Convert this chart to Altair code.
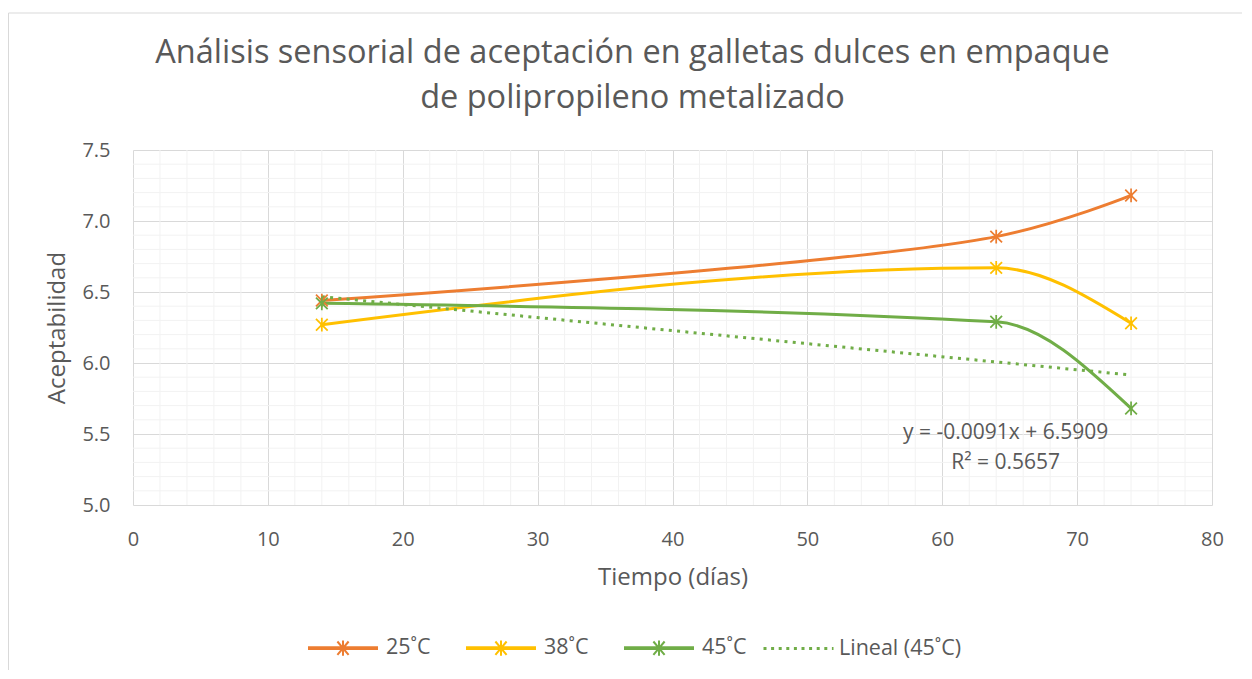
import altair as alt
import pandas as pd

# ---- data ----
dias = [14, 64, 74]
series_names = ["25˚C", "38˚C", "45˚C"]
v25 = [6.44, 6.89, 7.18]
v38 = [6.27, 6.67, 6.28]
v45 = [6.42, 6.29, 5.68]
colors = ["#ED7D31", "#FFC000", "#70AD47"]
trend_name = "Lineal (45˚C)"
trend_color = "#70AD47"

x_ticks = [0, 10, 20, 30, 40, 50, 60, 70, 80]
y_ticks = [5.0, 5.5, 6.0, 6.5, 7.0, 7.5]
x_minor = [2, 4, 6, 8, 12, 14, 16, 18, 22, 24, 26, 28, 32, 34, 36, 38,
           42, 44, 46, 48, 52, 54, 56, 58, 62, 64, 66, 68, 72, 74, 76, 78]
y_minor = [5.1, 5.2, 5.3, 5.4, 5.6, 5.7, 5.8, 5.9, 6.1, 6.2, 6.3, 6.4,
           6.6, 6.7, 6.8, 6.9, 7.1, 7.2, 7.3, 7.4]

eq_text = ["y = -0.0091x + 6.5909", "R² = 0.5657"]
eq_x = [64.7, 64.7]
eq_y = [5.505, 5.295]

title_lines = ["Análisis sensorial de aceptación en galletas dulces en empaque",
               "de polipropileno metalizado"]

FONT = "Open Sans"
TXT = "#595959"
W, H = 1079, 355

rows = []
for name, vals in zip(series_names, [v25, v38, v45]):
    for d, v in zip(dias, vals):
        rows.append({"dias": d, "valor": v, "serie": name})
df = pd.DataFrame(rows)

xs = alt.Scale(domain=[0, 80], nice=False, zero=False)
ys = alt.Scale(domain=[5.0, 7.5], nice=False, zero=False)

asterisk = "M-0.9,-0.9L0.9,0.9M-0.9,0.9L0.9,-0.9M0,-1.05V1.05"
legend_path = ("M-1,-0.025H1M-1,0.025H1"
               "M-0.16,-0.19L0.16,0.19M-0.16,0.19L0.16,-0.19M0,-0.22V0.22")

frame = alt.Chart(pd.DataFrame({"k": [0]})).mark_rect(
    fillOpacity=0, stroke="#D9D9D9", strokeWidth=1
).encode(x=alt.value(-124.5), x2=alt.value(1130), y=alt.value(-137), y2=alt.value(560))

minor_x = alt.Chart(pd.DataFrame({"g": x_minor})).mark_rule(
    color="#F2F2F2", strokeWidth=1
).encode(x=alt.X("g:Q", scale=xs))

minor_y = alt.Chart(pd.DataFrame({"g": y_minor})).mark_rule(
    color="#F2F2F2", strokeWidth=1
).encode(y=alt.Y("g:Q", scale=ys))

base = alt.Chart(df)

x_enc = alt.X("dias:Q", scale=xs, title="Tiempo (días)",
              axis=alt.Axis(values=x_ticks, grid=True, gridColor="#D9D9D9",
                            domain=False, ticks=False, labelPadding=24,
                            labelFlush=False,
                            labelFontSize=20, labelFont=FONT, labelColor=TXT,
                            titleFont=FONT, titleFontSize=24, titleColor=TXT,
                            titleFontWeight="normal", titlePadding=16))
y_enc = alt.Y("valor:Q", scale=ys, title="Aceptabilidad",
              axis=alt.Axis(values=y_ticks, format=".1f", grid=True,
                            gridColor="#D9D9D9", domain=False, ticks=False,
                            labelFlush=False,
                            labelPadding=23, labelFontSize=20, labelFont=FONT,
                            labelColor=TXT, titleFont=FONT, titleFontSize=24,
                            titleColor=TXT, titleFontWeight="normal",
                            titlePadding=12))

color_scale = alt.Scale(domain=series_names, range=colors)

# 25˚C drawn first (underneath), smoothed like the spreadsheet curve
line25 = base.transform_filter(alt.datum.serie == series_names[0]).mark_line(
    strokeWidth=3, interpolate="catmull-rom", strokeCap="round"
).encode(
    x=x_enc, y=y_enc,
    color=alt.Color("serie:N", scale=color_scale, legend=None),
)

lines = base.transform_filter(alt.datum.serie != series_names[0]).mark_line(
    strokeWidth=3, interpolate="monotone", strokeCap="round"
).encode(
    x=alt.X("dias:Q", scale=xs), y=alt.Y("valor:Q", scale=ys),
    color=alt.Color("serie:N", scale=color_scale, sort=series_names,
                    legend=alt.Legend(orient="none", legendX=174, legendY=462,
                                      direction="horizontal", title=None,
                                      symbolType=legend_path, symbolSize=4900,
                                      symbolStrokeWidth=2, labelFontSize=21.5,
                                      labelFont=FONT, labelColor=TXT,
                                      labelOffset=7, columnPadding=31,
                                      padding=0)),
)

points = base.mark_point(shape=asterisk, size=169, filled=False, strokeWidth=1.75,
                         opacity=1).encode(
    x=alt.X("dias:Q", scale=xs), y=alt.Y("valor:Q", scale=ys),
    color=alt.Color("serie:N", scale=color_scale, legend=None),
)

trend = base.transform_filter(
    alt.datum.serie == "45˚C"
).transform_regression(
    "dias", "valor", method="linear", extent=[14, 74]
).transform_calculate(
    tr=f"'{trend_name}'"
).mark_line(strokeWidth=3, strokeDash=[3, 5.3]).encode(
    x=alt.X("dias:Q", scale=xs), y=alt.Y("valor:Q", scale=ys),
    color=alt.Color("tr:N", scale=alt.Scale(domain=[trend_name], range=[trend_color]),
                    legend=alt.Legend(orient="none", legendX=629, legendY=462,
                                      direction="horizontal", title=None,
                                      symbolType="stroke", symbolSize=4900,
                                      symbolStrokeWidth=3, symbolDash=[3, 4.6],
                                      labelFontSize=21.5, labelFont=FONT,
                                      labelColor=TXT, labelOffset=4, padding=0)),
)

eq = alt.Chart(pd.DataFrame({"t": eq_text, "x": eq_x, "y": eq_y})).mark_text(
    font=FONT, fontSize=21, color=TXT, align="center", baseline="middle"
).encode(x=alt.X("x:Q", scale=xs), y=alt.Y("y:Q", scale=ys), text="t:N")

chart = alt.layer(frame, minor_x, minor_y, line25, lines, trend, points, eq).resolve_scale(
    color="independent"
).properties(
    width=W, height=H,
    autosize=alt.AutoSizeParams(type="none"),
    padding={"left": 125, "top": 142, "right": 30, "bottom": 165},
    title=alt.TitleParams(text=title_lines, font=FONT, fontSize=32.5, color=TXT,
                          fontWeight="normal", anchor="middle", dx=-40,
                          lineHeight=45, offset=-102),
).configure_view(stroke=None)

chart.save("out.html", embed_options={"renderer": "svg", "actions": False})
